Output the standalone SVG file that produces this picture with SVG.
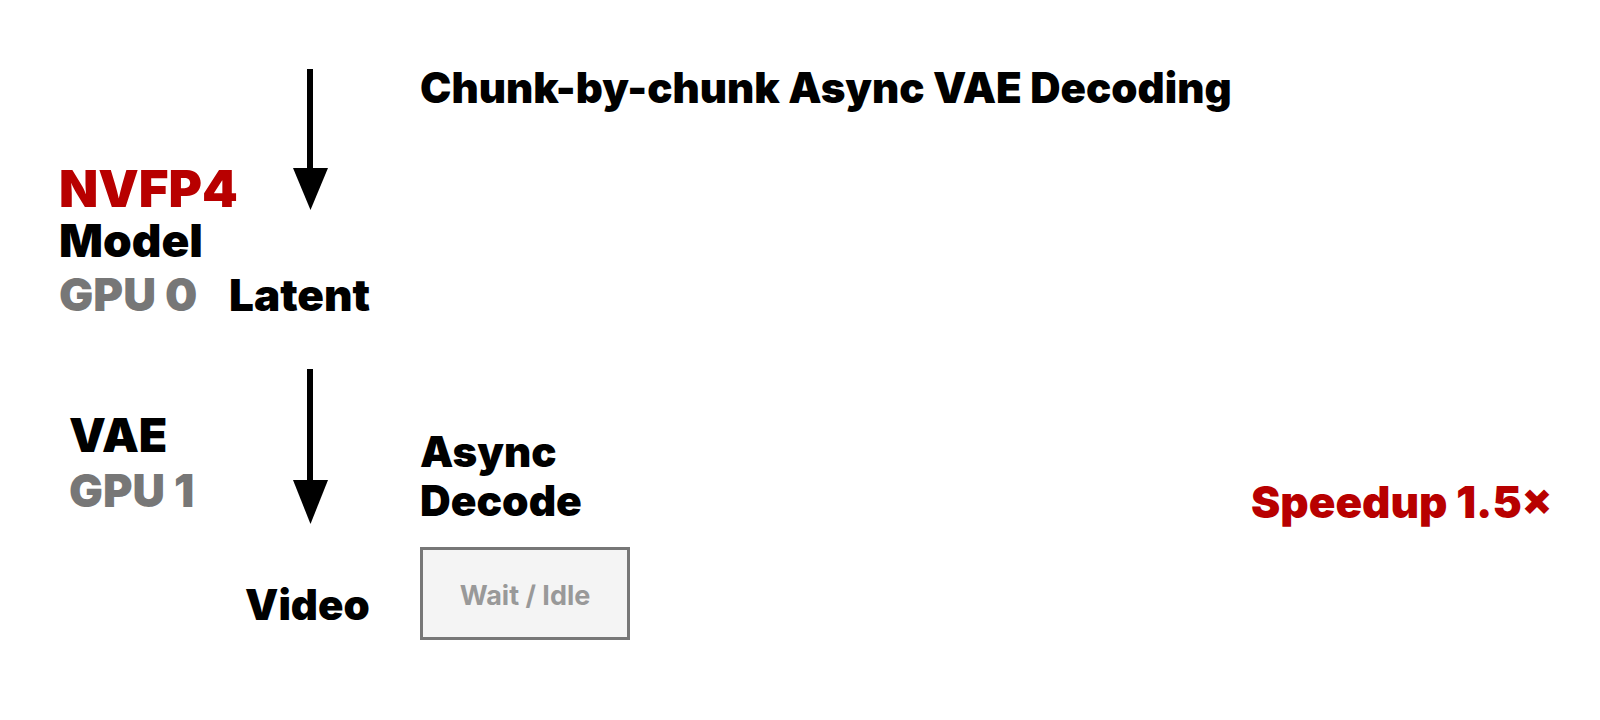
<svg xmlns="http://www.w3.org/2000/svg" width="1600" height="720" viewBox="0 0 1600 720">
<style>
text{font-family:Inter,"Noto Sans",sans-serif;font-weight:900}
.b{fill:#000}
.r{fill:#b80000}
.g{fill:#777}
.ar{stroke:#000;stroke-width:6;fill:none}
</style>
<rect width="1600" height="720" fill="#fff"/>
<g id="title"><text x="420" y="103" font-size="42" class="b">Chunk-by-chunk Async VAE Decoding</text></g>
<g id="model">
<text x="59" y="207" font-size="51" class="r">NVFP4</text>
<text x="59" y="257" font-size="46" class="b">Model</text>
<text x="59" y="311" font-size="45.5" class="g">GPU 0</text>
</g>
<g id="latent"><text x="229" y="311" font-size="44" class="b">Latent</text></g>
<g id="vae">
<text x="69" y="452" font-size="46.5" class="b">VAE</text>
<text x="69" y="507" font-size="45" class="g">GPU 1</text>
</g>
<g id="async"><text x="420" y="467" font-size="42" class="b">Async</text><text x="420" y="516" font-size="42.5" class="b">Decode</text></g>
<g id="video"><text x="245" y="620" font-size="42" class="b">Video</text></g>
<g id="wait"><rect x="421.5" y="548.5" width="207" height="90" fill="#f4f4f4" stroke="#777" stroke-width="3"/><text x="525" y="605" font-size="27" fill="#999" text-anchor="middle" style="font-weight:700">Wait / Idle</text></g>
<g id="speedup"><text x="1251" y="518" font-size="44" class="r">Speedup 1.5×</text></g>
<g id="connectors">
<line x1="310" y1="69" x2="310" y2="172" class="ar"/>
<polygon points="293,168 328,168 310.5,210" fill="#000"/>
<line x1="310" y1="369" x2="310" y2="484" class="ar"/>
<polygon points="293,480 328,480 310.5,524" fill="#000"/>
</g>
</svg>
